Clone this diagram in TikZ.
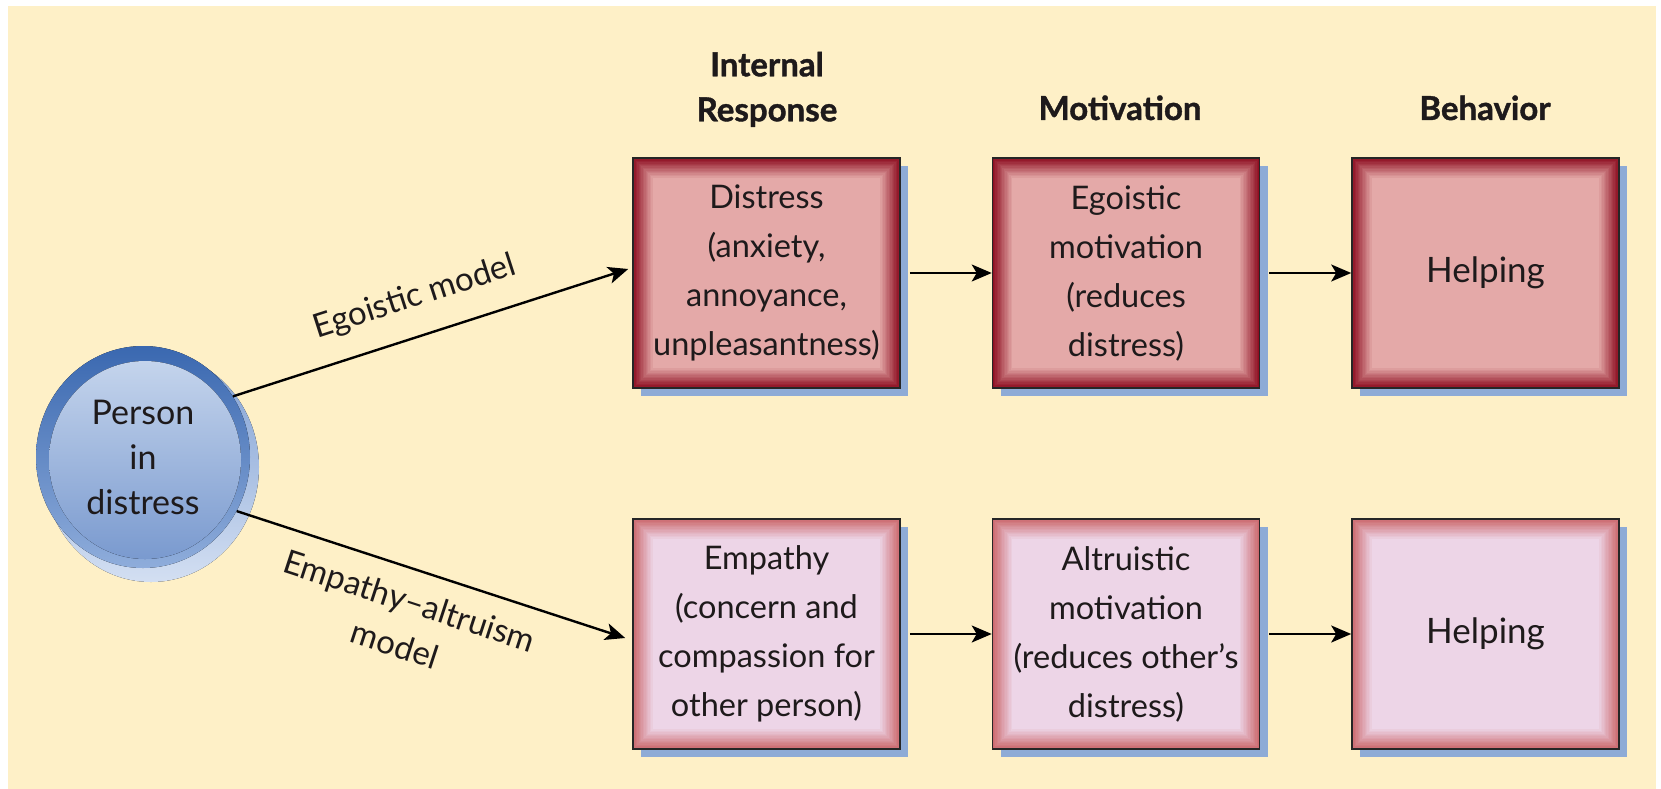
\documentclass[tikz,border=0pt]{standalone}
\usepackage{fontspec}
\setmainfont{Lato}
\newfontfamily\headfont{Lato}[BoldFeatures={FakeBold=1.2}]
\usetikzlibrary{arrows.meta,shapes.geometric,shadows,calc}
\definecolor{bg}{HTML}{FEF0C7}
\definecolor{txt}{HTML}{1E1A1B}
\definecolor{shblue}{HTML}{8EABD6}
\definecolor{redEdge}{HTML}{8E0F22}
\definecolor{redIn}{HTML}{E4A9A8}
\definecolor{pinkEdge}{HTML}{CC6A6E}
\definecolor{pinkIn}{HTML}{EDD5E7}
\definecolor{ringTop}{HTML}{3A68B0}
\definecolor{ringBot}{HTML}{8FADDB}
\definecolor{faceTop}{HTML}{C4D4EC}
\definecolor{faceBot}{HTML}{7A9ACF}
\definecolor{shTop}{HTML}{7E9FD3}
\definecolor{shBot}{HTML}{D3DFF2}
\tikzset{
  bevel/.style 2 args={path picture={
    \foreach \i in {0,...,14}{
      \pgfmathtruncatemacro\p{\i*100/14}
      \fill[#2!\p!#1] ([xshift=\i*1.4pt,yshift=-\i*1.4pt]path picture bounding box.north west)
        rectangle ([xshift=-\i*1.4pt,yshift=\i*1.4pt]path picture bounding box.south east);
    }}},
  stagebox/.style={draw=black!85, line width=1.6pt, minimum width=267pt, minimum height=230pt,
    inner sep=0pt, align=center, text=txt, font=\fontsize{32.5}{49}\selectfont,
    drop shadow={shadow xshift=8pt, shadow yshift=-8pt, fill=shblue, opacity=1}},
  egobox/.style={stagebox, bevel={redEdge}{redIn}},
  empbox/.style={stagebox, bevel={pinkEdge}{pinkIn}},
  head/.style={align=center, inner sep=0pt, text=txt, font=\headfont\bfseries\fontsize{33}{45}\selectfont},
  conn/.style={line width=2.4pt, black, -{Stealth[length=20pt,width=17pt,inset=5pt]}},
  lbl/.style={text=txt, font=\fontsize{33}{46}\selectfont, align=center, inner sep=0pt}
}
\begin{document}
\begin{tikzpicture}[x=1pt,y=-1pt]
\useasboundingbox (0,0) rectangle (1661,789);
\fill[white] (0,0) rectangle (1661,789);
\fill[bg] (8,6) rectangle (1656,789);

% headers
\node[head, anchor=south] (hInt) at (767,127) {Internal\\Response};
\node[head, anchor=base] (hMot) at (1120,120) {Motivation};
\node[head, anchor=base] (hBeh) at (1485,120) {Behavior};

% boxes
\node[egobox] (t1) at (766.5,273) {Distress\\(anxiety,\\annoyance,\\unpleasantness)};
\node[egobox] (t2) at (1126,273) {Egoistic\\motivation\\(reduces\\distress)};
\node[egobox, font=\fontsize{35}{49}\selectfont] (t3) at (1485.5,273) {Helping};
\node[empbox] (b1) at (766.5,634) {Empathy\\(concern and\\compassion for\\other person)};
\node[empbox] (b2) at (1126,634) {Altruistic\\motivation\\(reduces other’s\\distress)};
\node[empbox, font=\fontsize{35}{49}\selectfont] (b3) at (1485.5,634) {Helping};

% person ellipse
\fill[top color=shTop, bottom color=shBot] (151,467) ellipse [x radius=108pt, y radius=115pt];
\fill[top color=ringTop, bottom color=ringBot] (143,457) ellipse [x radius=107pt, y radius=111pt];
\fill[top color=faceTop, bottom color=faceBot] (145,460) ellipse [x radius=96pt, y radius=99pt];
\node[ellipse, minimum width=214pt, minimum height=222pt, inner sep=0pt, align=center, text=txt,
  font=\fontsize{34}{45}\selectfont] (person) at (143,457) {Person\\in\\distress};

% connectors
\draw[conn] (person.34) -- node[lbl, sloped, above=22pt, pos=0.49] {Egoistic model}
  ([xshift=-4pt,yshift=4pt]t1.west);
\draw[conn] (person.-30) -- node[lbl, sloped, below=18pt, pos=0.47] {Empathy–altruism\\model}
  ([xshift=-7pt,yshift=-4pt]b1.west);
\draw[conn] ([xshift=9pt]t1.east) -- (t2.west);
\draw[conn] ([xshift=9pt]t2.east) -- (t3.west);
\draw[conn] ([xshift=9pt]b1.east) -- (b2.west);
\draw[conn] ([xshift=9pt]b2.east) -- (b3.west);
\end{tikzpicture}
\end{document}
